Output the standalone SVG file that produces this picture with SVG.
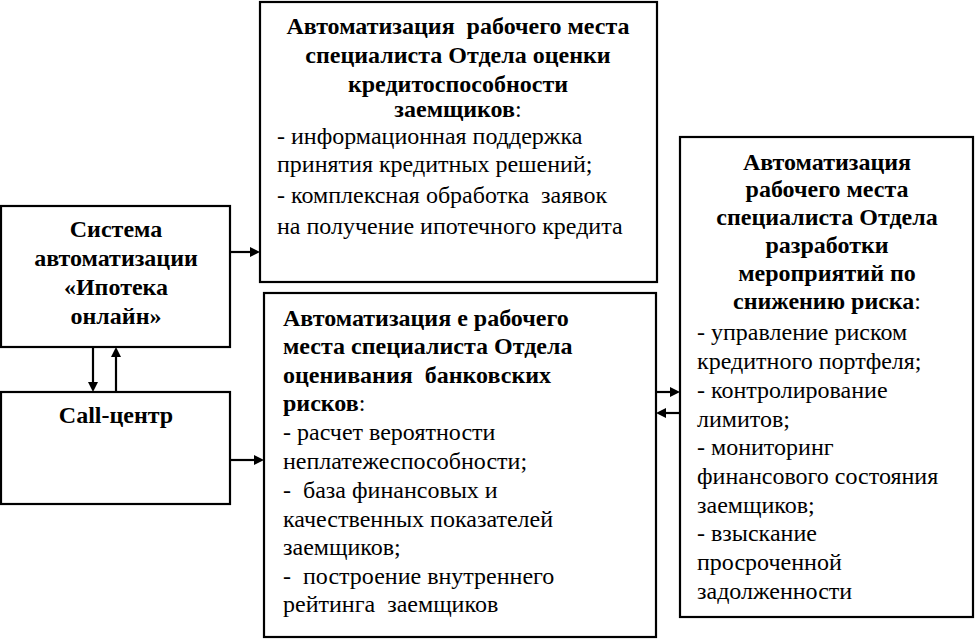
<svg xmlns="http://www.w3.org/2000/svg" width="976" height="639" viewBox="0 0 976 639">
<rect width="976" height="639" fill="#fff"/>
<g id="connectors" stroke="#000" stroke-width="2.2" fill="#000">
<line x1="230" y1="252" x2="251" y2="252"/><polygon points="250,247 260,252 250,257" stroke="none"/>
<line x1="231" y1="460" x2="255" y2="460"/><polygon points="254,455 264,460 254,465" stroke="none"/>
<line x1="93" y1="347" x2="93" y2="383"/><polygon points="88,382 98,382 93,392" stroke="none"/>
<line x1="116" y1="392" x2="116" y2="356"/><polygon points="111,357 121,357 116,347" stroke="none"/>
<line x1="656" y1="392" x2="671" y2="392"/><polygon points="670,387 680,392 670,397" stroke="none"/>
<line x1="682" y1="413" x2="665" y2="413"/><polygon points="666,408 656,413 666,418" stroke="none"/>
</g>
<g id="system" font-family="Liberation Serif">
<rect x="1" y="206" width="229" height="141" fill="#fff" stroke="#000" stroke-width="2.2"/>
<text font-family="Liberation Serif" font-size="24" font-weight="bold" text-anchor="middle" x="116" y="237">Система</text>
<text font-family="Liberation Serif" font-size="24" font-weight="bold" text-anchor="middle" x="116" y="266">автоматизации</text>
<text font-family="Liberation Serif" font-size="24" font-weight="bold" text-anchor="middle" x="116" y="295">«Ипотека</text>
<text font-family="Liberation Serif" font-size="24" font-weight="bold" text-anchor="middle" x="116" y="324">онлайн»</text>
</g>
<g id="callcenter" font-family="Liberation Serif">
<rect x="1" y="392" width="229" height="112" fill="#fff" stroke="#000" stroke-width="2.2"/>
<text font-family="Liberation Serif" font-size="24" font-weight="bold" text-anchor="middle" x="116" y="423">Call-центр</text>
</g>
<g id="credit" font-family="Liberation Serif">
<rect x="260" y="2" width="397" height="280" fill="#fff" stroke="#000" stroke-width="2.2"/>
<text font-family="Liberation Serif" font-size="24" font-weight="bold" text-anchor="middle" x="458" y="34">Автоматизация &#160;рабочего места</text>
<text font-family="Liberation Serif" font-size="24" font-weight="bold" text-anchor="middle" x="458" y="63">специалиста Отдела оценки</text>
<text font-family="Liberation Serif" font-size="24" font-weight="bold" text-anchor="middle" x="458" y="92">кредитоспособности</text>
<text font-family="Liberation Serif" font-size="24" text-anchor="middle" x="458" y="117"><tspan font-weight="bold">заемщиков</tspan>:</text>
<text font-family="Liberation Serif" font-size="24" x="277" y="144">- информационная поддержка</text>
<text font-family="Liberation Serif" font-size="24" x="277" y="172">принятия кредитных решений;</text>
<text font-family="Liberation Serif" font-size="24" x="277" y="203">- комплексная обработка &#160;заявок</text>
<text font-family="Liberation Serif" font-size="24" x="277" y="234">на получение ипотечного кредита</text>
</g>
<g id="risk" font-family="Liberation Serif">
<rect x="264" y="293" width="392" height="344" fill="#fff" stroke="#000" stroke-width="2.2"/>
<text font-family="Liberation Serif" font-size="24" font-weight="bold" x="283" y="326">Автоматизация е рабочего</text>
<text font-family="Liberation Serif" font-size="24" font-weight="bold" x="283" y="354">места специалиста Отдела</text>
<text font-family="Liberation Serif" font-size="24" font-weight="bold" x="283" y="383">оценивания &#160;банковских</text>
<text font-family="Liberation Serif" font-size="24" x="283" y="411"><tspan font-weight="bold">рисков</tspan>:</text>
<text font-family="Liberation Serif" font-size="24" x="283" y="440">- расчет вероятности</text>
<text font-family="Liberation Serif" font-size="24" x="283" y="469">неплатежеспособности;</text>
<text font-family="Liberation Serif" font-size="24" x="283" y="498">- &#160;база финансовых и</text>
<text font-family="Liberation Serif" font-size="24" x="283" y="527">качественных показателей</text>
<text font-family="Liberation Serif" font-size="24" x="283" y="555">заемщиков;</text>
<text font-family="Liberation Serif" font-size="24" x="283" y="584">- &#160;построение внутреннего</text>
<text font-family="Liberation Serif" font-size="24" x="283" y="612">рейтинга &#160;заемщиков</text>
</g>
<g id="measures" font-family="Liberation Serif">
<rect x="680" y="137" width="293" height="480" fill="#fff" stroke="#000" stroke-width="2.2"/>
<text font-family="Liberation Serif" font-size="24" font-weight="bold" text-anchor="middle" x="827" y="170">Автоматизация</text>
<text font-family="Liberation Serif" font-size="24" font-weight="bold" text-anchor="middle" x="827" y="197">рабочего места</text>
<text font-family="Liberation Serif" font-size="24" font-weight="bold" text-anchor="middle" x="827" y="225">специалиста Отдела</text>
<text font-family="Liberation Serif" font-size="24" font-weight="bold" text-anchor="middle" x="827" y="253">разработки</text>
<text font-family="Liberation Serif" font-size="24" font-weight="bold" text-anchor="middle" x="827" y="281">мероприятий по</text>
<text font-family="Liberation Serif" font-size="24" text-anchor="middle" x="827" y="309"><tspan font-weight="bold">снижению риска</tspan>:</text>
<text font-family="Liberation Serif" font-size="24" x="697" y="340">- управление риском</text>
<text font-family="Liberation Serif" font-size="24" x="697" y="369">кредитного портфеля;</text>
<text font-family="Liberation Serif" font-size="24" x="697" y="398">- контролирование</text>
<text font-family="Liberation Serif" font-size="24" x="697" y="427">лимитов;</text>
<text font-family="Liberation Serif" font-size="24" x="697" y="455">- мониторинг</text>
<text font-family="Liberation Serif" font-size="24" x="697" y="484">финансового состояния</text>
<text font-family="Liberation Serif" font-size="24" x="697" y="513">заемщиков;</text>
<text font-family="Liberation Serif" font-size="24" x="697" y="541">- взыскание</text>
<text font-family="Liberation Serif" font-size="24" x="697" y="570">просроченной</text>
<text font-family="Liberation Serif" font-size="24" x="697" y="599">задолженности</text>
</g>
</svg>
